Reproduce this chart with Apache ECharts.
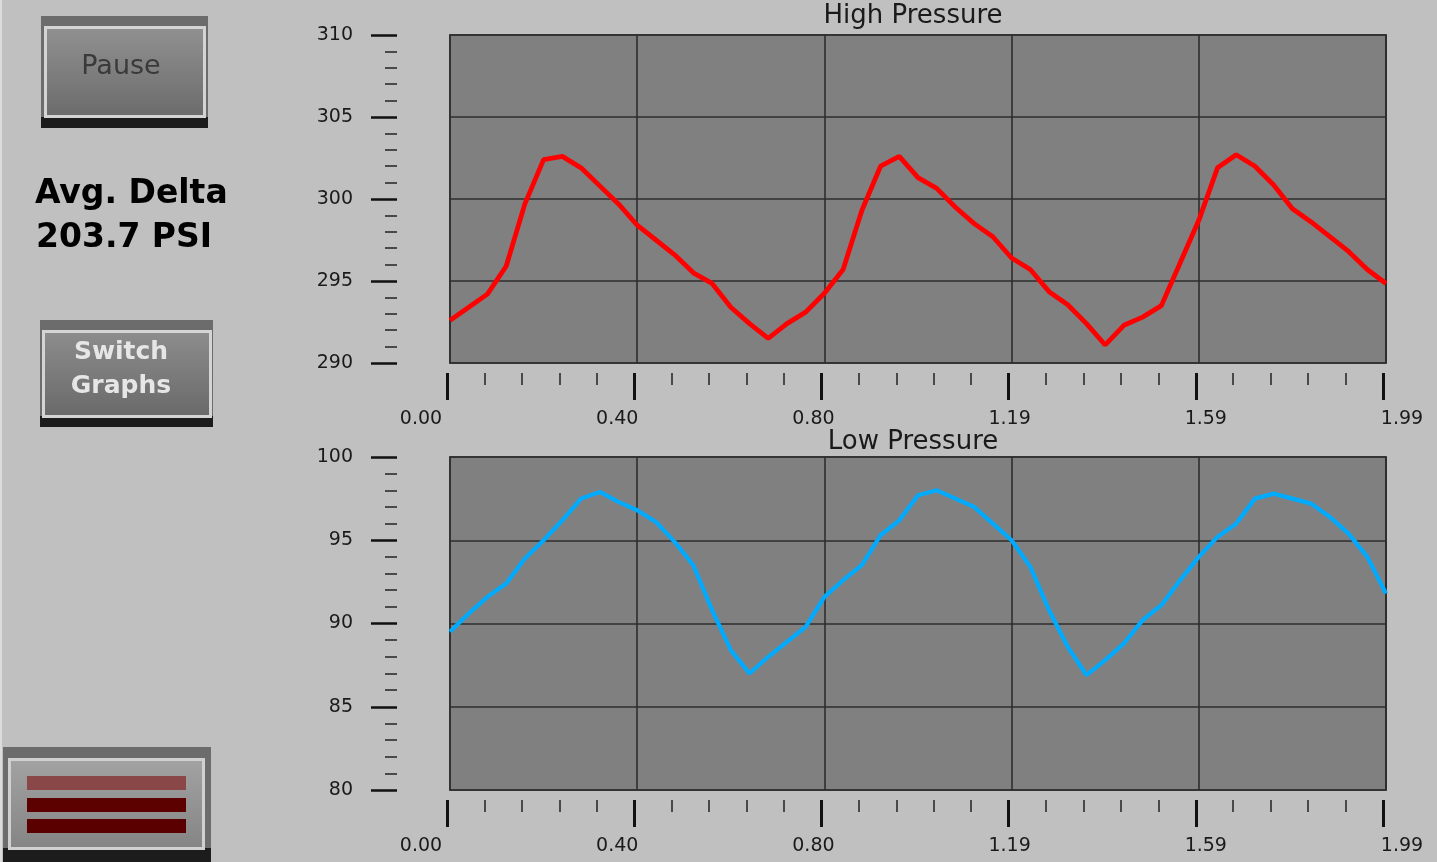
<!DOCTYPE html>
<html>
<head>
<meta charset="utf-8">
<script src="https://cdn.jsdelivr.net/npm/echarts@6/dist/echarts.min.js"></script>
<style>
  html, body { margin: 0; padding: 0; background: #c0c0c0; }
  #chart { width: 1437px; height: 862px; }
</style>
</head>
<body>
<div id="chart"></div>
<script>
// ---- data ----
const SAMPLE_INTERVAL = 0.0398;              // seconds between samples (50 steps over 1.99 s)
const X_TICK_STEP = 0.398;
const X_TICK_LABELS = ['0.00', '0.40', '0.80', '1.19', '1.59', '1.99'];
const HIGH_TITLE = 'High Pressure';
const LOW_TITLE = 'Low Pressure';
const HIGH_Y_RANGE = [290, 310];
const LOW_Y_RANGE = [80, 100];
const Y_TICK_STEP = 5;

const HIGH_PRESSURE = [
  292.6, 293.4, 294.2, 295.9, 299.7, 302.4, 302.6, 301.9, 300.8, 299.7,
  298.4, 297.5, 296.6, 295.5, 294.85, 293.4, 292.4, 291.5, 292.4, 293.1,
  294.25, 295.7, 299.3, 302.0, 302.6, 301.3, 300.65, 299.5, 298.5, 297.7,
  296.4, 295.7, 294.35, 293.55, 292.4, 291.1, 292.3, 292.8, 293.5, 296.1,
  298.7, 301.9, 302.7, 302.0, 300.85, 299.4, 298.6, 297.7, 296.8, 295.7,
  294.85
];
const LOW_PRESSURE = [
  89.5, 90.6, 91.6, 92.4, 93.9, 95.0, 96.2, 97.5, 97.9, 97.3,
  96.8, 96.1, 94.9, 93.5, 90.8, 88.4, 87.0, 88.0, 88.9, 89.8,
  91.6, 92.6, 93.5, 95.3, 96.2, 97.7, 98.0, 97.5, 97.0, 96.0,
  95.0, 93.4, 90.8, 88.6, 86.9, 87.8, 88.8, 90.2, 91.1, 92.6,
  94.0, 95.2, 96.0, 97.5, 97.8, 97.5, 97.2, 96.4, 95.4, 94.0,
  91.8
];
const AVG_DELTA_LINES = ['Avg. Delta', '203.7 PSI'];
const BUTTON_PAUSE = 'Pause';
const BUTTON_SWITCH = ['Switch', 'Graphs'];

// ---- build the option ----
const FONT = '"DejaVu Sans", "Liberation Sans", sans-serif';
const chart = echarts.init(document.getElementById('chart'), null, { renderer: 'canvas' });

const toPairs = arr => arr.map((v, i) => [i * SAMPLE_INTERVAL, v]);
const xMax = (HIGH_PRESSURE.length - 1) * SAMPLE_INTERVAL;

const panels = [
  { top: 35, height: 328, yr: HIGH_Y_RANGE },
  { top: 457, height: 333, yr: LOW_Y_RANGE }
];

const grids = [];
const xAxes = [];
const yAxes = [];
const hiddenX = g => ({ type: 'value', gridIndex: g, show: false, min: 0, max: 1 });
const hiddenY = g => ({ type: 'value', gridIndex: g, show: false, min: 0, max: 1 });
const gridBase = { outerBoundsMode: 'none', containLabel: false };

panels.forEach((p) => {
  const b = grids.length;
  // 0: plot grid
  grids.push(Object.assign({
    left: 450, top: p.top, width: 936, height: p.height,
    show: true, backgroundColor: '#808080', borderColor: '#484848', borderWidth: 2
  }, gridBase));
  // 1: x tick ruler (starts 10px under the plot)
  grids.push(Object.assign({ left: 447, top: p.top + 10, width: 936, height: p.height }, gridBase));
  // 2: x label row
  grids.push(Object.assign({ left: 421, top: p.top + 10, width: 981, height: p.height }, gridBase));
  // 3: y ruler (ticks + labels), its left edge at x=397
  grids.push(Object.assign({ left: 397, top: p.top, width: 20, height: p.height }, gridBase));

  // plot axes: grid lines only
  xAxes.push({
    type: 'value', gridIndex: b, min: 0, max: xMax, interval: X_TICK_STEP,
    axisLine: { show: false }, axisTick: { show: false }, axisLabel: { show: false },
    splitLine: { show: true, lineStyle: { color: '#2e2e2e', width: 1.6 } }
  });
  yAxes.push({
    type: 'value', gridIndex: b, min: p.yr[0], max: p.yr[1], interval: Y_TICK_STEP,
    axisLine: { show: false }, axisTick: { show: false }, axisLabel: { show: false },
    splitLine: { show: true, lineStyle: { color: '#2e2e2e', width: 1.6 } }
  });

  // x ruler ticks
  xAxes.push({
    type: 'value', gridIndex: b + 1, min: 0, max: xMax, interval: X_TICK_STEP, position: 'bottom',
    axisLine: { show: false },
    axisTick: { show: true, length: 27, lineStyle: { color: '#111111', width: 3 } },
    minorTick: { show: true, splitNumber: 5, length: 12, lineStyle: { color: '#222222', width: 1.5 } },
    axisLabel: { show: false }, splitLine: { show: false }
  });
  yAxes.push(hiddenY(b + 1));

  // x label row
  xAxes.push({
    type: 'value', gridIndex: b + 2, min: 0, max: xMax, interval: X_TICK_STEP, position: 'bottom',
    axisLine: { show: false }, axisTick: { show: false }, splitLine: { show: false },
    axisLabel: {
      show: true, margin: 37, color: '#1a1a1a', fontSize: 19, fontFamily: FONT,
      hideOverlap: false, showMinLabel: true, showMaxLabel: true,
      formatter: v => X_TICK_LABELS[Math.round(v / X_TICK_STEP)]
    }
  });
  yAxes.push(hiddenY(b + 2));

  // y ruler
  xAxes.push(hiddenX(b + 3));
  yAxes.push({
    type: 'value', gridIndex: b + 3, min: p.yr[0], max: p.yr[1], interval: Y_TICK_STEP, position: 'left',
    axisLine: { show: false },
    axisTick: { show: true, length: 26, lineStyle: { color: '#111111', width: 2.5 } },
    minorTick: { show: true, splitNumber: 5, length: 12, lineStyle: { color: '#222222', width: 1.5 } },
    axisLabel: { show: true, margin: 44, color: '#1a1a1a', fontSize: 19, fontFamily: FONT, hideOverlap: false },
    splitLine: { show: false }
  });
});

const grad = (c1, c2) => ({
  type: 'linear', x: 0, y: 0, x2: 0, y2: 1,
  colorStops: [{ offset: 0, color: c1 }, { offset: 1, color: c2 }]
});

const graphics = [
  { type: 'rect', shape: { x: 0, y: 0, width: 2, height: 862 }, style: { fill: '#dcdcdc' }, z: 100 },

  // Pause button
  { type: 'rect', shape: { x: 41, y: 16, width: 167, height: 112 }, style: { fill: '#6c6c6c' }, z: 100 },
  { type: 'rect', shape: { x: 41, y: 117, width: 167, height: 11 }, style: { fill: '#1c1c1c' }, z: 100 },
  { type: 'rect', shape: { x: 44, y: 26, width: 162, height: 92 }, style: { fill: '#d4d4d4' }, z: 101 },
  { type: 'rect', shape: { x: 47, y: 29, width: 156, height: 86 }, style: { fill: grad('#909090', '#6c6c6c') }, z: 102 },
  { type: 'text', x: 121, y: 67, z: 103,
    style: { text: BUTTON_PAUSE, fill: '#3a3a3a', font: '27px ' + FONT, align: 'center', verticalAlign: 'middle' } },

  // Avg delta readout
  { type: 'text', x: 35, y: 194, z: 103,
    style: { text: AVG_DELTA_LINES[0], fill: '#000000', font: 'bold 33px ' + FONT, align: 'left', verticalAlign: 'middle' } },
  { type: 'text', x: 36, y: 238, z: 103,
    style: { text: AVG_DELTA_LINES[1], fill: '#000000', font: 'bold 33px ' + FONT, align: 'left', verticalAlign: 'middle' } },

  // Switch Graphs button
  { type: 'rect', shape: { x: 40, y: 320, width: 173, height: 107 }, style: { fill: '#6c6c6c' }, z: 100 },
  { type: 'rect', shape: { x: 40, y: 416, width: 173, height: 11 }, style: { fill: '#1c1c1c' }, z: 100 },
  { type: 'rect', shape: { x: 42, y: 330, width: 170, height: 88 }, style: { fill: '#d4d4d4' }, z: 101 },
  { type: 'rect', shape: { x: 45, y: 333, width: 164, height: 82 }, style: { fill: grad('#8c8c8c', '#6a6a6a') }, z: 102 },
  { type: 'text', x: 121, y: 352, z: 103,
    style: { text: BUTTON_SWITCH[0], fill: '#e6e6e6', font: 'bold 25px ' + FONT, align: 'center', verticalAlign: 'middle' } },
  { type: 'text', x: 121, y: 386, z: 103,
    style: { text: BUTTON_SWITCH[1], fill: '#e6e6e6', font: 'bold 25px ' + FONT, align: 'center', verticalAlign: 'middle' } },

  // Menu button
  { type: 'rect', shape: { x: 3, y: 747, width: 208, height: 115 }, style: { fill: '#6c6c6c' }, z: 100 },
  { type: 'rect', shape: { x: 3, y: 848, width: 208, height: 14 }, style: { fill: '#1c1c1c' }, z: 100 },
  { type: 'rect', shape: { x: 8, y: 758, width: 197, height: 92 }, style: { fill: '#d0d0d0' }, z: 101 },
  { type: 'rect', shape: { x: 11, y: 761, width: 191, height: 86 }, style: { fill: grad('#a2a2a2', '#858585') }, z: 102 },
  { type: 'rect', shape: { x: 27, y: 776, width: 159, height: 14 }, style: { fill: '#8a4747' }, z: 103 },
  { type: 'rect', shape: { x: 27, y: 798, width: 159, height: 14 }, style: { fill: '#5c0000' }, z: 103 },
  { type: 'rect', shape: { x: 27, y: 819, width: 159, height: 14 }, style: { fill: '#5a0000' }, z: 103 },

  // Titles
  { type: 'text', x: 913, y: 16, z: 103,
    style: { text: HIGH_TITLE, fill: '#1a1a1a', font: '26px ' + FONT, align: 'center', verticalAlign: 'middle' } },
  { type: 'text', x: 913, y: 442, z: 103,
    style: { text: LOW_TITLE, fill: '#1a1a1a', font: '26px ' + FONT, align: 'center', verticalAlign: 'middle' } }
];

chart.setOption({
  animation: false,
  backgroundColor: '#c0c0c0',
  grid: grids,
  xAxis: xAxes,
  yAxis: yAxes,
  graphic: graphics,
  series: [
    {
      name: HIGH_TITLE, type: 'line', xAxisIndex: 0, yAxisIndex: 0,
      data: toPairs(HIGH_PRESSURE), showSymbol: false, symbol: 'none',
      lineStyle: { color: '#ff0000', width: 4.8 }, itemStyle: { color: '#ff0000' }
    },
    {
      name: LOW_TITLE, type: 'line', xAxisIndex: 4, yAxisIndex: 4,
      data: toPairs(LOW_PRESSURE), showSymbol: false, symbol: 'none',
      lineStyle: { color: '#00aaff', width: 4.2 }, itemStyle: { color: '#00aaff' }
    }
  ]
});
</script>
</body>
</html>
